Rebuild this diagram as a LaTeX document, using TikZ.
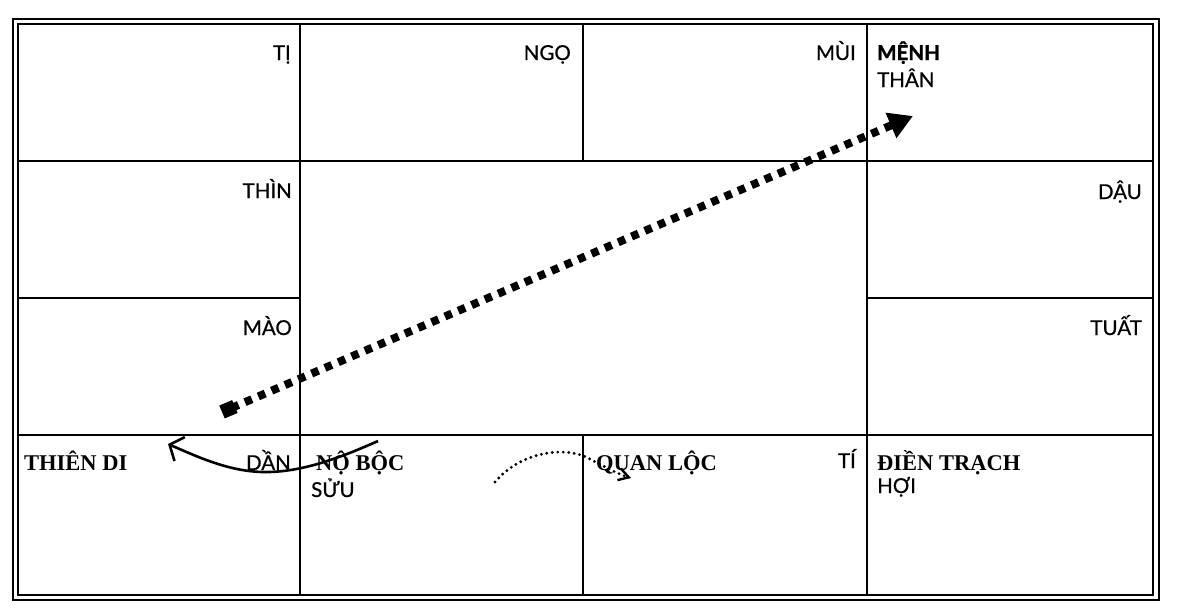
\documentclass[tikz,border=0pt]{standalone}
\usepackage{fontspec}
\setmainfont{Liberation Serif}
\newfontfamily\lab[FakeBold=0.6]{Lato}
\newfontfamily\labb[BoldFeatures={FakeBold=1.5}]{Lato}
\usetikzlibrary{arrows.meta}
\begin{document}
\begin{tikzpicture}[x=1pt,y=-1pt,
  gridline/.style={line width=2pt},
  br/.style={font=\lab\fontsize{20.5}{23}\selectfont, inner sep=0pt},
  brb/.style={font=\labb\bfseries\fontsize{20.5}{23}\selectfont, inner sep=0pt},
  pal/.style={font=\bfseries\fontsize{22.5}{24}\selectfont, inner sep=0pt},
  bigdots/.style={line width=8pt, dash pattern=on 7.5pt off 7pt, line cap=butt},
  smalldots/.style={line width=3.2pt, dash pattern=on 0pt off 5.5pt, line cap=round},
]
\useasboundingbox (0,0) rectangle (1177,608);
\fill[white] (0,0) rectangle (1177,608);
% frame
\draw[line width=2.4pt] (13,19) rectangle (1159,600);
\draw[line width=2pt] (18,24) rectangle (1153,595);
% grid
\draw[gridline] (18,161) -- (1153,161);
\draw[gridline] (18,435) -- (1153,435);
\draw[gridline] (18,298) -- (300,298);
\draw[gridline] (867,298) -- (1153,298);
\draw[gridline] (300,24) -- (300,595);
\draw[gridline] (583,24) -- (583,161);
\draw[gridline] (583,435) -- (583,595);
\draw[gridline] (867,24) -- (867,595);
% top row
\node[br, anchor=base east] (ti) at (291,60) {TỊ};
\node[br, anchor=base east] (ngo) at (571,60) {NGỌ};
\node[br, anchor=base east] (mui) at (856,60) {MÙI};
\node[brb, anchor=base west] (menh) at (877,60) {MỆNH};
\node[br, anchor=base west] (than) at (877,87) {THÂN};
% sides
\node[br, anchor=base east] (thin) at (292,198) {THÌN};
\node[br, anchor=base east] (mao) at (292,335) {MÀO};
\node[br, anchor=base east] (dau) at (1142,199) {DẬU};
\node[br, anchor=base east] (tuat) at (1142,335) {TUẤT};
% bottom row
\node[pal, anchor=base west] (thiendi) at (24,470) {THIÊN DI};
\node[br, anchor=base east] (dan) at (291,470) {DẦN};
\node[pal, anchor=base west] (nobot) at (316,470) {NỘ BỘC};
\node[br, anchor=base west] (suu) at (311,497) {SỬU};
\node[pal, anchor=base west] (quanloc) at (596,470) {QUAN LỘC};
\node[br, anchor=base east] (tii) at (856,468) {TÍ};
\node[pal, anchor=base west] (dientrach) at (877,470) {ĐIỀN TRẠCH};
\node[br, anchor=base west] (hoi) at (877,493) {HỢI};
% connectors
\coordinate (dA) at (222,412);
\coordinate (dB) at (913,116);
\draw[bigdots, {Square[length=14pt,width=14pt]}-{Triangle[length=24pt,width=26pt]}] (dA) -- (dB);
\coordinate (cA) at (378,441);
\coordinate (cB) at (168,444);
\draw[line width=2.6pt, -{Straight Barb[length=11pt,width=26pt,line width=2.6pt]}]
  (cA) .. controls (340,458) and (300,473) .. (262,472) .. controls (228,471) and (198,457) .. (cB);
\coordinate (eA) at (495,482);
\coordinate (eB) at (631,478);
\draw[smalldots, -{Straight Barb[length=10pt,width=12pt,line width=2.4pt]}]
  (eA) .. controls (522,450) and (568,446) .. (590,459) .. controls (605,467) and (618,474) .. (eB);
\end{tikzpicture}
\end{document}
